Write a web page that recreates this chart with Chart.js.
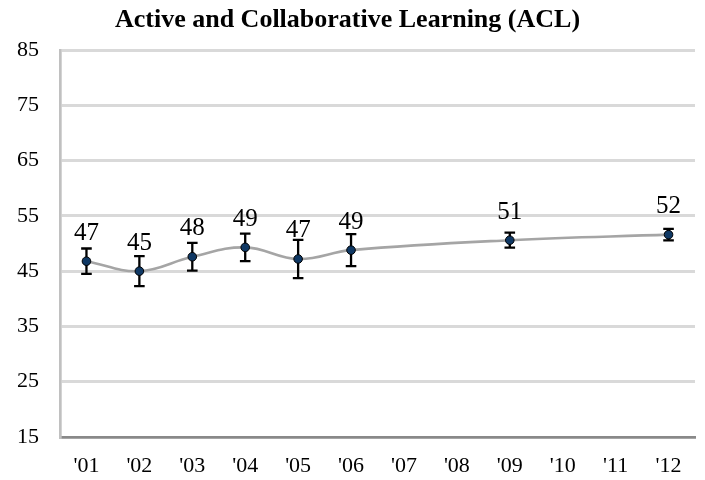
<!DOCTYPE html>
<html>
<head>
<meta charset="utf-8">
<script src="https://cdn.jsdelivr.net/npm/chart.js@4/dist/chart.umd.min.js"></script>
<style>
  html, body { margin: 0; padding: 0; background: #ffffff; }
  #wrap { width: 705px; height: 480px; position: relative; }
</style>
</head>
<body>
<div id="wrap"><canvas id="c"></canvas></div>
<script>
// ---- data ----
const years = ["'01", "'02", "'03", "'04", "'05", "'06", "'07", "'08", "'09", "'10", "'11", "'12"];
const aclScores = [46.8, 45.0, 47.6, 49.3, 47.2, 48.8, null, null, 50.6, null, null, 51.6];
const aclErrors = [2.3, 2.7, 2.5, 2.5, 3.45, 2.9, null, null, 1.35, null, null, 1.05];
const yTicks = [15, 25, 35, 45, 55, 65, 75, 85];

const SERIF = "'Times New Roman', 'Liberation Serif', serif";

const errorBarPlugin = {
  id: 'errorBars',
  beforeDatasetsDraw(chart) {
    const ctx = chart.ctx;
    const ys = chart.scales.y;
    const meta = chart.getDatasetMeta(0);
    ctx.save();
    ctx.strokeStyle = '#000000';
    ctx.lineWidth = 2.3;
    ctx.lineCap = 'butt';
    meta.data.forEach((pt, i) => {
      const v = aclScores[i];
      const e = aclErrors[i];
      if (v == null || e == null) return;
      const x = pt.x;
      const yTop = ys.getPixelForValue(v + e);
      const yBot = ys.getPixelForValue(v - e);
      const cap = 5.3;
      ctx.beginPath();
      ctx.moveTo(x, yTop); ctx.lineTo(x, yBot);
      ctx.moveTo(x - cap, yTop); ctx.lineTo(x + cap, yTop);
      ctx.moveTo(x - cap, yBot); ctx.lineTo(x + cap, yBot);
      ctx.stroke();
    });
    ctx.restore();
  },
  afterDatasetsDraw(chart) {
    const ctx = chart.ctx;
    const meta = chart.getDatasetMeta(0);
    ctx.save();
    ctx.fillStyle = '#000000';
    ctx.font = '25px ' + SERIF;
    ctx.textAlign = 'center';
    ctx.textBaseline = 'alphabetic';
    meta.data.forEach((pt, i) => {
      const v = aclScores[i];
      if (v == null) return;
      ctx.fillText(String(Math.round(v)), pt.x, pt.y - 21.5);
    });
    ctx.restore();
  }
};

new Chart(document.getElementById('c'), {
  type: 'line',
  data: {
    labels: years,
    datasets: [{
      label: 'ACL',
      data: aclScores,
      spanGaps: true,
      borderColor: '#a5a5a5',
      borderWidth: 2.6,
      tension: 0.4,
      fill: false,
      pointRadius: 4.3,
      pointBorderWidth: 1,
      pointBackgroundColor: '#0f3864',
      pointBorderColor: '#000000'
    }]
  },
  options: {
    responsive: true,
    maintainAspectRatio: false,
    animation: false,
    layout: { padding: { left: 0, right: 10, top: 0, bottom: 0 } },
    plugins: {
      legend: { display: false },
      tooltip: { enabled: false },
      title: {
        display: true,
        text: 'Active and Collaborative Learning (ACL)',
        color: '#000000',
        font: { family: SERIF, size: 26, weight: 'bold', lineHeight: 1.2 },
        padding: { top: 5, bottom: 13.8 }
      }
    },
    scales: {
      x: {
        type: 'category',
        offset: true,
        grid: { display: false, drawTicks: false },
        border: { display: true, color: '#898989', width: 2.7 },
        ticks: {
          color: '#000000',
          font: { family: SERIF, size: 22 },
          padding: 16,
          maxRotation: 0,
          autoSkip: false
        },
        afterFit(scale) { scale.height = 43; }
      },
      y: {
        min: 15,
        max: 85,
        afterBuildTicks(scale) { scale.ticks = yTicks.map(v => ({ value: v })); },
        grid: {
          drawTicks: false,
          color: (c) => (c.tick && c.tick.value === 15) ? 'rgba(0,0,0,0)' : '#d9d9d9',
          lineWidth: 3
        },
        border: { display: true, color: '#c0c0c0', width: 2.7 },
        ticks: {
          color: '#000000',
          font: { family: SERIF, size: 22 },
          padding: 21
        },
        afterFit(scale) { scale.width = 60; }
      }
    }
  },
  plugins: [errorBarPlugin]
});
</script>
</body>
</html>
